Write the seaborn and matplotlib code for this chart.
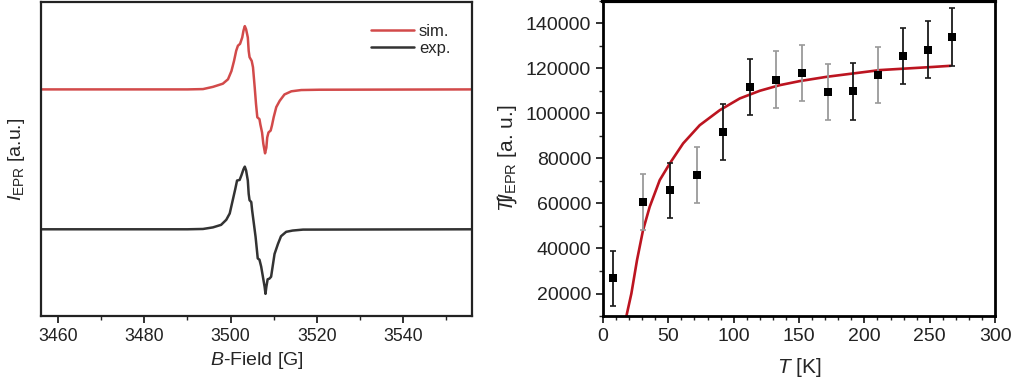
import numpy as np
import pandas as pd
import matplotlib
matplotlib.use("Agg")
import matplotlib.pyplot as plt
import seaborn as sns
from matplotlib.ticker import MultipleLocator

# ── EPR spectra (normalised to peak ≈ 1) ──
sim_field = [3456.0, 3490.0, 3493.6, 3495.9, 3498.2, 3499.4, 3500.2, 3500.8,
             3501.3, 3501.7, 3502.2, 3502.7, 3503.0, 3503.3, 3503.6, 3504.0,
             3504.2, 3504.4, 3504.9, 3505.2, 3505.6, 3505.9, 3506.2, 3506.7,
             3506.9, 3507.3, 3507.6, 3508.0, 3508.3, 3508.5, 3508.8, 3509.3,
             3509.6, 3510.0, 3510.6, 3511.4, 3512.5, 3514.1, 3516.4, 3520.6,
             3556.0]
sim_signal = [0.0, 0.0, 0.005, 0.04, 0.09, 0.16, 0.29, 0.45,
              0.61, 0.69, 0.72, 0.82, 0.93, 1.00, 0.95, 0.82,
              0.61, 0.51, 0.45, 0.35, 0.03, -0.23, -0.44, -0.47,
              -0.55, -0.68, -0.86, -1.01, -0.92, -0.76, -0.68, -0.65,
              -0.57, -0.44, -0.28, -0.18, -0.08, -0.03, -0.01, -0.005,
              0.0]

exp_field = [3456.0, 3490.0, 3493.6, 3495.9, 3497.8, 3499.0, 3499.8, 3500.5,
             3501.1, 3501.5, 3502.1, 3502.5, 3503.0, 3503.3, 3503.6, 3504.0,
             3504.2, 3504.4, 3504.8, 3505.0, 3505.4, 3505.8, 3506.2, 3506.3,
             3506.7, 3507.1, 3507.5, 3507.9, 3508.1, 3508.3, 3508.6, 3509.0,
             3509.4, 3509.8, 3510.2, 3511.0, 3511.7, 3512.9, 3514.4, 3516.8,
             3556.0]
exp_signal = [0.0, 0.0, 0.005, 0.03, 0.07, 0.15, 0.25, 0.46,
              0.64, 0.77, 0.78, 0.85, 0.95, 0.99, 0.93, 0.77,
              0.56, 0.46, 0.43, 0.30, 0.09, -0.12, -0.39, -0.46,
              -0.48, -0.59, -0.75, -0.91, -1.02, -0.91, -0.79, -0.78,
              -0.75, -0.57, -0.39, -0.23, -0.11, -0.04, -0.02, -0.005,
              0.0]

# ── temperature dependence ──
temp = [7.7, 30.4, 51.6, 71.7, 91.9, 112.3, 132.3, 152.2, 171.8, 191.5,
        210.6, 229.8, 248.7, 267.1]
t_int = [26700, 60700, 65800, 72600, 91800, 111800, 115100, 118000, 109500,
         109900, 117200, 125600, 128400, 133800]
t_err = [12300, 12600, 12400, 12400, 12500, 12500, 12700, 12400, 12400,
         12600, 12400, 12400, 12700, 12900]

fit_temp = [17.9, 21.7, 26.0, 30.6, 35.7, 43.4, 51.1, 61.3, 74.0, 89.4,
            104.7, 120.0, 135.3, 150.6, 171.1, 191.5, 212.0, 232.3, 252.8,
            266.0]
fit_int = [10000, 20000, 34800, 48100, 58500, 70400, 77800, 86700, 94800,
           101500, 106700, 110100, 112600, 114400, 116300, 117800, 119300,
           120000, 120700, 121200]

sns.set_style("ticks")
plt.rcParams["font.family"] = ["Liberation Sans", "DejaVu Sans"]
plt.rcParams["mathtext.fontset"] = "custom"
plt.rcParams["mathtext.rm"] = "Liberation Sans"
plt.rcParams["mathtext.it"] = "Liberation Sans:italic"
plt.rcParams["mathtext.bf"] = "Liberation Sans:bold"

fig = plt.figure(figsize=(10.14, 3.81), dpi=100)
ax1 = fig.add_axes([0.0404, 0.1706, 0.4250, 0.8240])
ax2 = fig.add_axes([0.5947, 0.1706, 0.3866, 0.8268])

# ─────────────── left: spectra ───────────────
sim_df = pd.DataFrame({"B": sim_field, "I": np.array(sim_signal) + 2.21})
exp_df = pd.DataFrame({"B": exp_field, "I": exp_signal})
sns.lineplot(data=sim_df, x="B", y="I", ax=ax1, color="#d24a4a", lw=1.8,
             sort=False, label="sim.")
sns.lineplot(data=exp_df, x="B", y="I", ax=ax1, color="#333333", lw=1.8,
             sort=False, label="exp.")
ax1.set_xlim(3456, 3556)
ax1.set_ylim(-1.37, 3.59)
ax1.xaxis.set_major_locator(MultipleLocator(20))
ax1.xaxis.set_minor_locator(MultipleLocator(10))
ax1.set_yticks([])
ax1.set_xlabel(r"$B$-Field [G]", fontsize=14)
ax1.set_ylabel(r"$I_{\mathrm{EPR}}$ [a.u.]", fontsize=14, labelpad=10)
ax1.legend(loc="upper right", frameon=False, fontsize=12, handlelength=2.6,
           handletextpad=0.3, labelspacing=0.15, borderaxespad=0.9)
for s in ax1.spines.values():
    s.set_linewidth(1.6)
    s.set_color("#222222")
ax1.tick_params(axis="both", which="major", labelsize=12.8)

# ─────────────── right: temperature series ───────────────
fit_df = pd.DataFrame({"T": fit_temp, "I": fit_int})
sns.lineplot(data=fit_df, x="T", y="I", ax=ax2, color="#bc1420", lw=1.9,
             sort=False, zorder=2)
faint = {1, 3, 6, 7, 8, 10}
for i, (t, v, e) in enumerate(zip(temp, t_int, t_err)):
    ax2.errorbar(t, v, yerr=e, fmt="none", capsize=2.5, capthick=1.2,
                 elinewidth=1.3, color="#9a9a9a" if i in faint else "#1a1a1a",
                 zorder=3)
pts = pd.DataFrame({"T": temp, "I": t_int})
sns.scatterplot(data=pts, x="T", y="I", ax=ax2, marker="s", s=28,
                color="black", edgecolor="black", linewidth=0, zorder=4)
ax2.set_xlim(0, 300)
ax2.set_ylim(10000, 150000)
ax2.xaxis.set_major_locator(MultipleLocator(50))
ax2.xaxis.set_minor_locator(MultipleLocator(10))
ax2.yaxis.set_minor_locator(MultipleLocator(10000))
ax2.set_yticks([20000, 40000, 60000, 80000, 100000, 120000, 140000])
ax2.set_xlabel(r"$T$ [K]", fontsize=15, labelpad=8)
ax2.set_ylabel(r"$T\!\int\! I_{\mathrm{EPR}}$ [a. u.]", fontsize=15, labelpad=5)
for s in ax2.spines.values():
    s.set_linewidth(2.0)
    s.set_color("black")
ax2.spines["top"].set_linewidth(3.0)
ax2.tick_params(axis="both", which="major", labelsize=14)

for ax in (ax1, ax2):
    ax.tick_params(axis="both", which="major", direction="out", length=5,
                   width=1.3, colors="#222222")
    ax.tick_params(axis="both", which="minor", direction="out", length=3,
                   width=1.0, colors="#222222")

fig.savefig("out.png", dpi=100)
